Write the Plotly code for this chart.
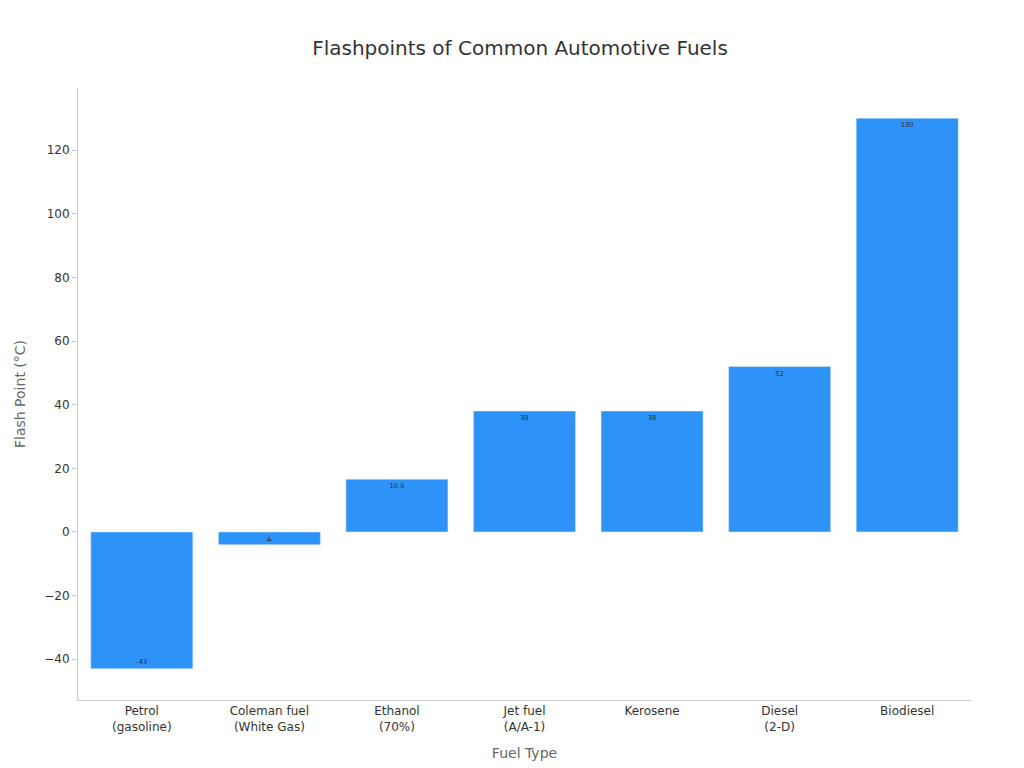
import plotly.graph_objects as go

fuels = ["Petrol<br>(gasoline)", "Coleman fuel<br>(White Gas)", "Ethanol<br>(70%)", "Jet fuel<br>(A/A-1)", "Kerosene", "Diesel<br>(2-D)", "Biodiesel"]
flash = [-43, -4, 16.6, 38, 38, 52, 130]

fig = go.Figure(go.Bar(x=fuels, y=flash, text=[str(v) for v in flash], textposition="inside",
                       insidetextanchor="end", marker_color="#2E93F9",
                       textfont=dict(color="#333333", size=12)))
fig.update_layout(
    width=1024, height=768, plot_bgcolor="white", paper_bgcolor="white",
    font=dict(family="DejaVu Sans", color="#333"),
    title=dict(text="Flashpoints of Common Automotive Fuels", x=0.5, y=0.957, font=dict(size=20, color="#333")),
    margin=dict(l=70, r=61, t=80, b=76), bargap=0.2,
    xaxis=dict(title=dict(text="Fuel Type", font=dict(size=14, color="#666")), showline=True, linecolor="#ccc",
               tickfont=dict(size=12)),
    yaxis=dict(title=dict(text="Flash Point (°C)", font=dict(size=14, color="#666")), showline=True, linecolor="#ccc",
               range=[-52.8, 139.5], dtick=20, ticks="outside", tickcolor="#ccc", ticklen=5, showgrid=False,
               zeroline=False, tickfont=dict(size=12)),
    uniformtext=dict(minsize=1, mode="show"),
)
fig.write_html("out.html")
